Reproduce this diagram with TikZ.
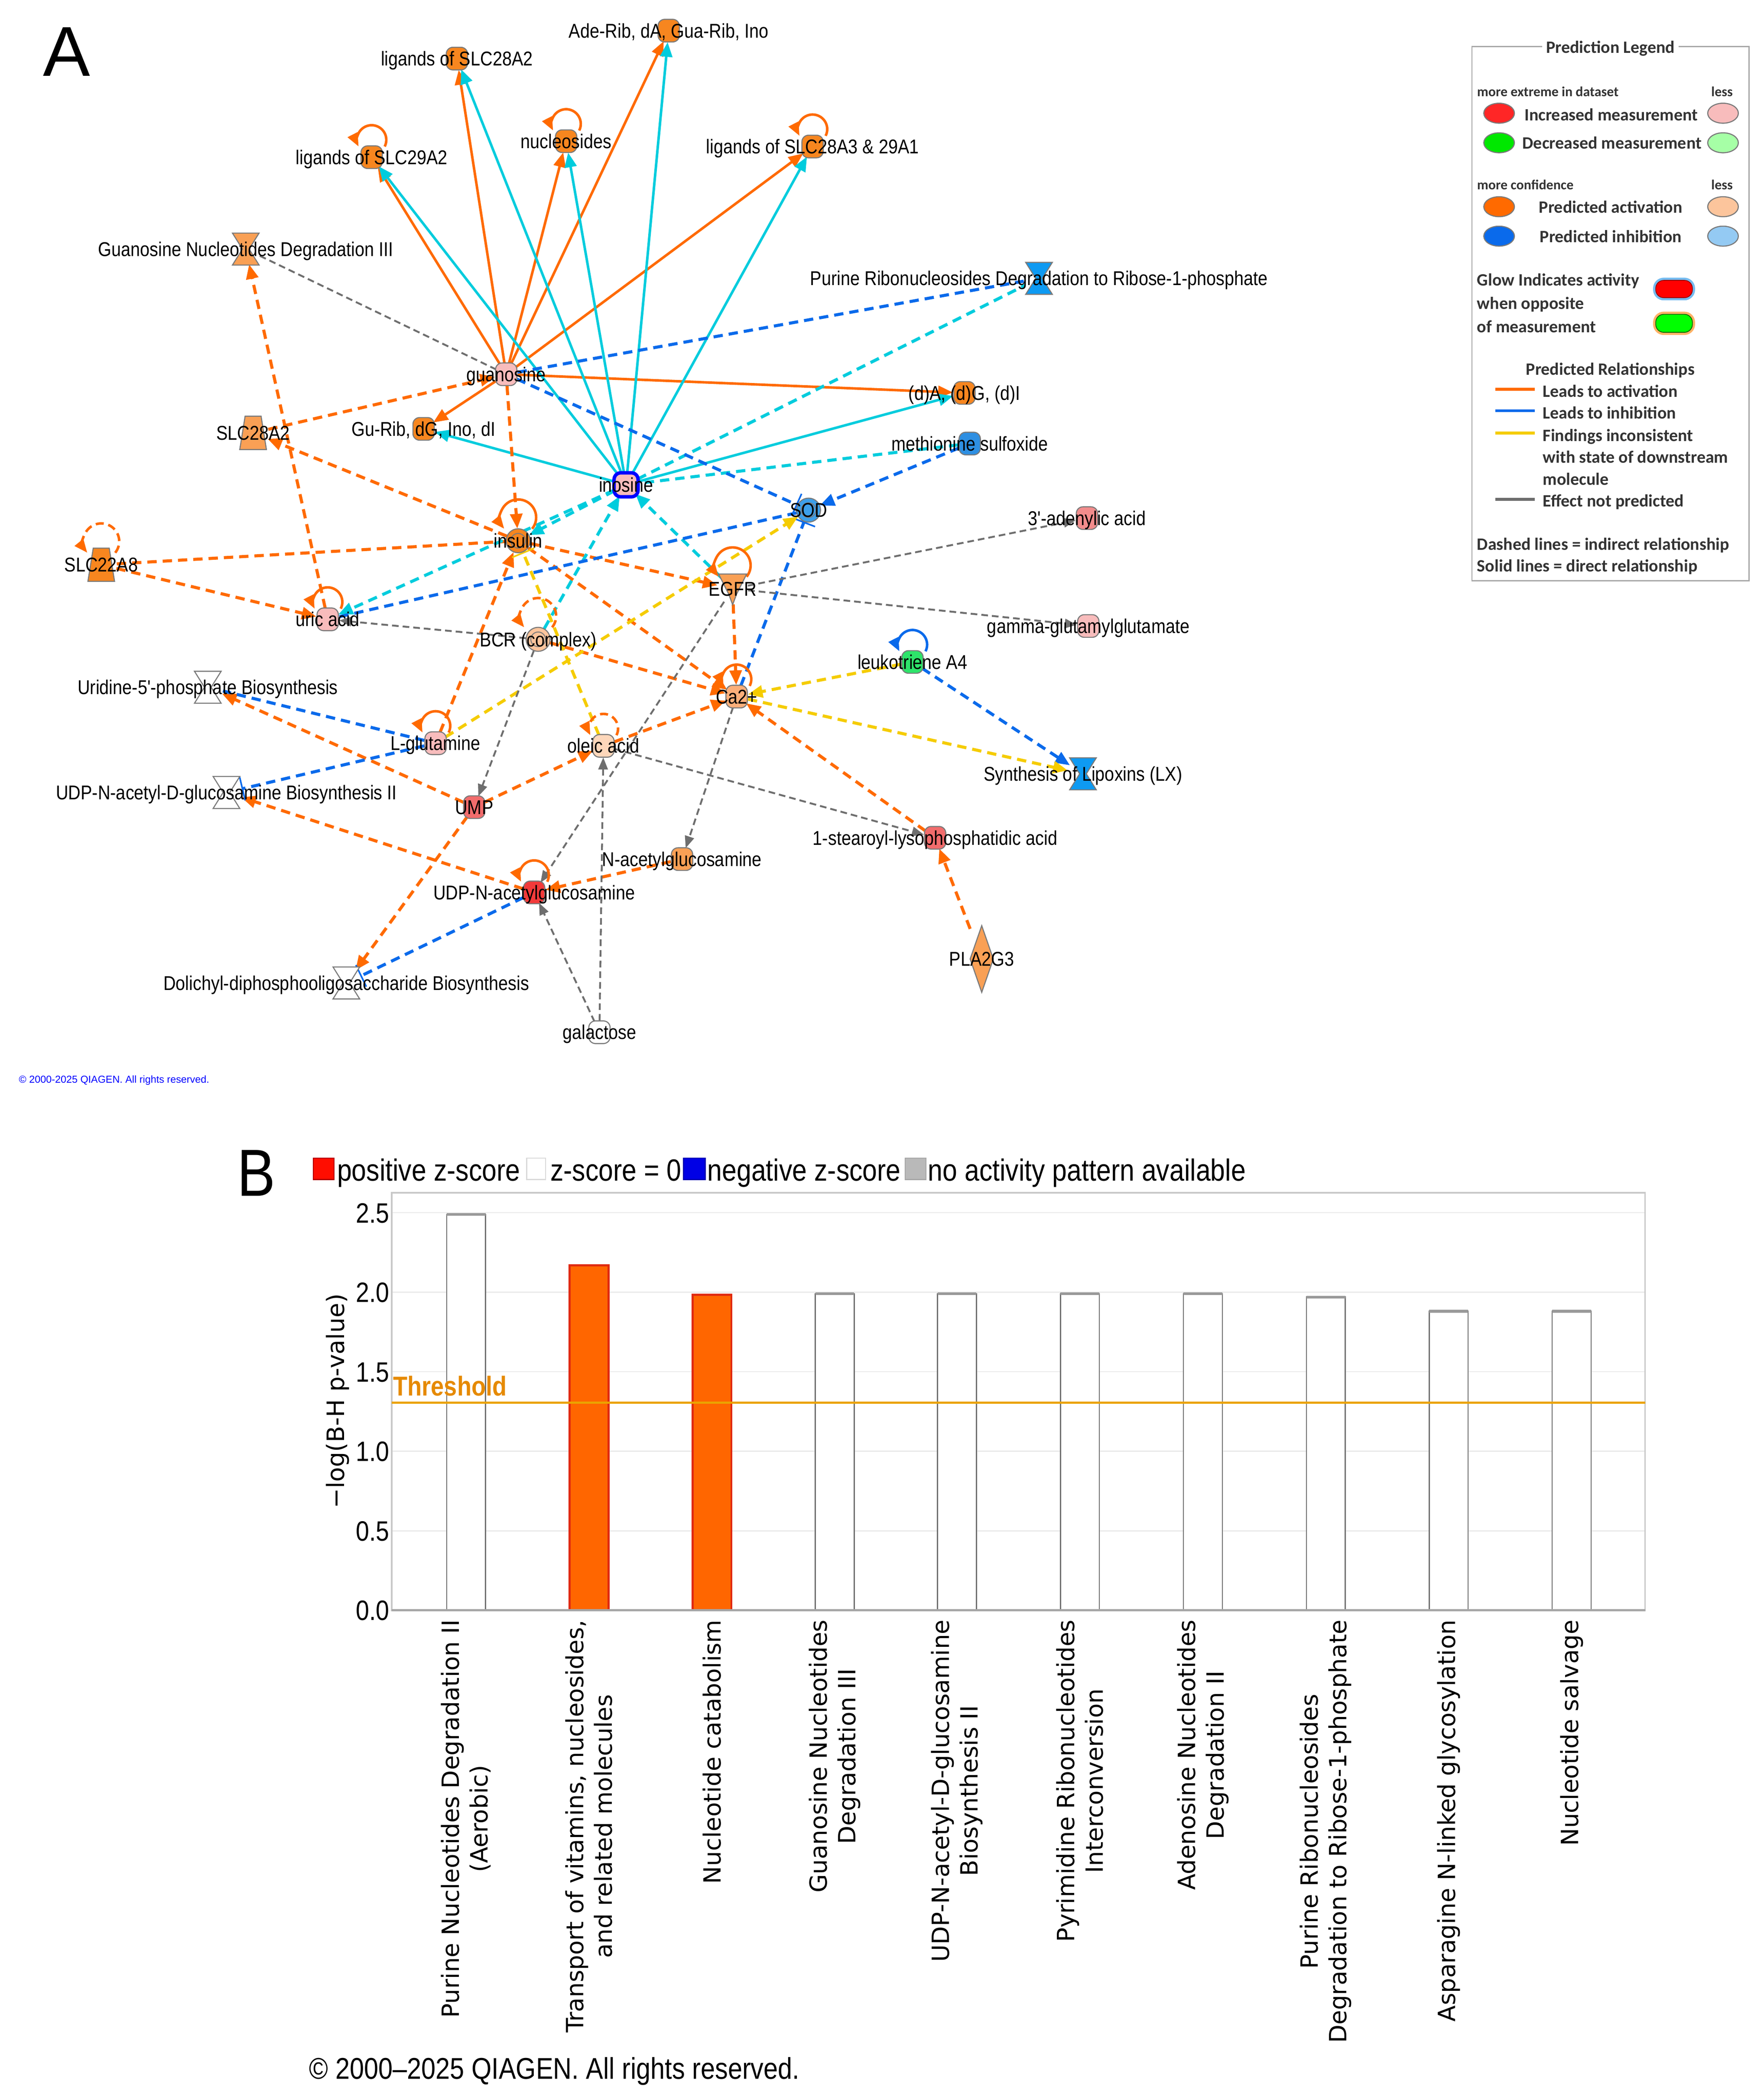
\documentclass[tikz,border=0pt]{standalone}
\usepackage{fontspec}
\setmainfont{Liberation Sans}
\newfontfamily\netf[FakeStretch=0.86]{Liberation Sans}
\newfontfamily\dvf{DejaVu Sans}
\newfontfamily\lgf{Carlito}
\usetikzlibrary{arrows.meta,calc}
\definecolor{orng}{HTML}{FF6A00}
\definecolor{cyn}{HTML}{00CCDD}
\definecolor{blu}{HTML}{0A6AEB}
\definecolor{yel}{HTML}{F5CC00}
\definecolor{gry}{HTML}{6E6E6E}
\definecolor{shpb}{HTML}{7A7A7A}
\definecolor{oD}{HTML}{F7861F}
\definecolor{oM}{HTML}{F9A055}
\definecolor{oL1}{HTML}{FBAF7A}
\definecolor{oL2}{HTML}{FCC59C}
\definecolor{oL3}{HTML}{FDD7BA}
\definecolor{pkL}{HTML}{F8BCBC}
\definecolor{pkM}{HTML}{F28C8C}
\definecolor{pkR}{HTML}{F26C6C}
\definecolor{rdS}{HTML}{F23A3A}
\definecolor{blS}{HTML}{3C9FEA}
\definecolor{blM}{HTML}{2E8FE2}
\definecolor{blH}{HTML}{0E9AF2}
\definecolor{grn}{HTML}{2EE46A}
\definecolor{barO}{HTML}{FF6600}
\definecolor{barE}{HTML}{E02A10}
\definecolor{thr}{HTML}{EBA300}
\definecolor{thrT}{HTML}{E68A00}
\definecolor{gridc}{HTML}{EAEAEA}
\definecolor{framec}{HTML}{C8C8C8}
\definecolor{lgtxt}{HTML}{333333}
\tikzset{
 mn/.style={circle, minimum size=17pt, inner sep=0pt, draw=none},
 mnb/.style={circle, minimum size=23pt, inner sep=0pt, draw=none},
 lbl/.style={font=\netf\fontsize{15}{17}\selectfont, inner sep=0pt, text height=10.7pt, text depth=0pt},
 tip/.style={-{Triangle[length=11pt,width=9pt]}},
 gtip/.style={-{Triangle[length=9pt,width=7pt]}},
 ttip/.style={-{Bar[width=18pt,line width=1.2pt]}},
 sol/.style={line width=1.9pt},
 dsh/.style={line width=2.3pt, dash pattern=on 7pt off 4.5pt},
 gds/.style={line width=1.4pt, dash pattern=on 5pt off 3pt},
 actS/.style={sol, draw=orng, tip},
 cyS/.style={sol, draw=cyn, tip},
 actD/.style={dsh, draw=orng, tip},
 actDn/.style={dsh, draw=orng},
 cyD/.style={dsh, draw=cyn, tip},
 cyDn/.style={dsh, draw=cyn},
 inhD/.style={dsh, draw=blu, tip},
 inhDn/.style={dsh, draw=blu},
 inhDT/.style={dsh, draw=blu, ttip},
 yeD/.style={dsh, draw=yel, tip},
 yeDT/.style={dsh, draw=yel, ttip},
 grD/.style={gds, draw=gry, gtip},
 grDn/.style={gds, draw=gry},
 loopS/.style={line width=1.9pt, draw=orng, -{Triangle[length=10pt,width=8pt]}},
 loopD/.style={loopS, dash pattern=on 6pt off 3.5pt},
 shp/.style={draw=shpb, line width=0.8pt},
 pics/chem/.style={code={\draw[shp, fill=#1, rounded corners=5pt] (-8,-8.5) rectangle (8,8.5);}},
 pics/cplx/.style={code={\draw[shp, fill=#1] (0,0) circle (9pt); \draw[draw=shpb, line width=0.7pt] (0,0) circle (5.5pt);}},
 pics/hglass/.style={code={\draw[shp, fill=#1] (-10,-12) -- (10,-12) -- (2.5,0) -- (10,12) -- (-10,12) -- (-2.5,0) -- cycle;}},
 pics/trans/.style={code={\draw[shp, fill=#1] (-6,-12.5) -- (6,-12.5) -- (10,12.5) -- (-10,12.5) -- cycle;}},
 pics/recep/.style={code={\draw[shp, fill=#1] (-10.5,-11) -- (10.5,-11) -- (3,4) -- (0,12) -- (-3,4) -- cycle;}},
 pics/diam/.style={code={\draw[shp, fill=#1] (0,-25) -- (8.7,0) -- (0,25) -- (-8.7,0) -- cycle;}},
 tick/.style={font=\netf\fontsize{21}{24}\selectfont, inner sep=0pt, text height=15pt, text depth=0pt, anchor=east},
 catl/.style={rotate=90, anchor=east, align=center, font=\dvf\fontsize{17.8}{21.5}\selectfont, inner sep=0pt},
 chl/.style={font=\netf\fontsize{23}{25}\selectfont, inner sep=0pt, anchor=base west},
 lgt/.style={font=\lgf\bfseries\fontsize{13}{15}\selectfont, text=lgtxt, inner sep=0pt, text height=8.4pt, text depth=0pt, anchor=west},
 lgs/.style={font=\lgf\bfseries\fontsize{10.4}{12}\selectfont, text=lgtxt, inner sep=0pt, text height=6.5pt, text depth=0pt},
 wbar/.style={draw=gry, line width=0.8pt, fill=white},
 obar/.style={draw=barE, line width=1.6pt, fill=barO},
}
\newcommand\sloop[2]{\draw[#2] ([shift={(-27:11pt)},yshift=13pt]#1.center) arc[start angle=-27,end angle=207,radius=11pt];}
\newcommand\bloop[2]{\draw[#2] ([shift={(-39:13.5pt)},yshift=17.5pt]#1.center) arc[start angle=-39,end angle=219,radius=13.5pt];}
\begin{document}
\begin{tikzpicture}[x=1pt,y=-1pt]
\useasboundingbox (0,0) rectangle (1324,1576.7);
\fill[white] (0,0) rectangle (1324,1576.7);

% ---------------- Panel A: anchor nodes ----------------
\node[font=\fontsize{53}{56}\selectfont, inner sep=0pt, text height=38pt, text depth=0pt] (labA) at (50,38) {A};
\node[mn] (lig28A2) at (343,44) {};
\node[mn] (aderib) at (502,23) {};
\node[mn] (nucl) at (425,106) {};
\node[mn] (lig29A2) at (279,118) {};
\node[mn] (lig28A3) at (610,110) {};
\node[mnb] (gndeg) at (184.5,187) {};
\node[mnb] (purine) at (780,209) {};
\node[mn] (guan) at (380,281) {};
\node[mn] (dadg) at (724,295) {};
\node[mnb] (slc28a2) at (190,325) {};
\node[mn] (gurib) at (318,322) {};
\node[mn] (methsulf) at (728,333) {};
\node[mn, minimum size=19pt] (ino) at (470,364) {};
\node[mn, minimum size=18pt] (sod) at (607,383) {};
\node[mn] (adenylic) at (816,389) {};
\node[mn, minimum size=18pt] (insulin) at (389,406) {};
\node[mnb] (slc22a8) at (76,424) {};
\node[mnb] (egfr) at (550,442) {};
\node[mn] (uric) at (246,465) {};
\node[mn, minimum size=18pt] (bcr) at (404,480) {};
\node[mn] (gamma) at (817,470) {};
\node[mn] (leuko) at (685,497) {};
\node[mnb] (uridine) at (156,516) {};
\node[mn] (ca) at (553,523) {};
\node[mn] (lglut) at (327,558) {};
\node[mn] (oleic) at (453,560) {};
\node[mnb] (lipox) at (813,581) {};
\node[mnb] (udpbios) at (170,595) {};
\node[mn] (ump) at (356,606) {};
\node[mn] (stearoyl) at (702,629) {};
\node[mn] (nag) at (512,645) {};
\node[mn] (udpnag) at (401,670) {};
\node[rectangle, minimum width=17pt, minimum height=50pt, inner sep=0pt] (pla2g3) at (737,720) {};
\node[mnb] (dolich) at (260,738) {};
\node[mn] (galac) at (450,775) {};

% ---------------- edges ----------------
\foreach \t in {lig28A2,lig29A2,nucl,aderib,lig28A3,dadg,gurib} \draw[actS] (guan) -- (\t);
\foreach \t in {lig28A2,lig29A2,nucl,aderib,lig28A3,dadg,gurib} \draw[cyS] (ino) -- (\t);

\draw[actD] (slc28a2) -- (guan);
\draw[actD] (guan) -- (insulin);
\draw[actD] (insulin) -- (slc28a2);
\draw[actD] (uric) -- (gndeg);
\draw[actDn] (slc22a8) -- (insulin);
\draw[actD] (slc22a8) -- (uric);
\draw[actD] (insulin) -- (egfr);
\draw[actD] (insulin) -- (ca);
\draw[actD] (bcr) -- (ca);
\draw[actD] (oleic) -- (ca);
\draw[actD] (egfr) -- (ca);
\draw[actD] (stearoyl) -- (ca);
\draw[actD] (pla2g3) -- (stearoyl);
\draw[actD] (lglut) -- (insulin);
\draw[actD] (ump) -- (oleic);
\draw[actD] (ump) -- (uridine);
\draw[actD] (ump) -- (dolich);
\draw[actD] (udpnag) -- (udpbios);
\draw[actD] (nag) -- (udpnag);

\draw[cyDn] (ino) -- (purine);
\draw[cyDn] (methsulf) -- (ino);
\draw[cyD] (ino) -- (insulin);
\draw[cyD] (ino) -- (uric);
\draw[cyD] (bcr) -- (ino);
\draw[cyD] (egfr) -- (ino);

\draw[inhDT] (guan) -- (sod);
\draw[inhDn] (guan) -- (purine);
\draw[inhDn] (sod) -- (uric);
\draw[inhD] (methsulf) -- (sod);
\draw[inhDT] (ca) -- (sod);
\draw[inhD] (leuko) -- (lipox);
\draw[inhDn] (lglut) -- (uridine);
\draw[inhDT] (lglut) -- (udpbios);
\draw[inhDT] (udpnag) -- (dolich);

\draw[yeD] (lglut) -- (sod);
\draw[yeDT] (oleic) -- (insulin);
\draw[yeD] (leuko) -- (ca);
\draw[yeD] (ca) -- (lipox);

\draw[grDn] (gndeg) -- (guan);
\draw[grD] (egfr) -- (adenylic);
\draw[grD] (egfr) -- (gamma);
\draw[grD] (egfr) -- (udpnag);
\draw[grD] (ca) -- (nag);
\draw[grD] (bcr) -- (uric);
\draw[grD] (bcr) -- (ump);
\draw[grD] (oleic) -- (stearoyl);
\draw[grD] (galac) -- (udpnag);
\draw[grD] (galac) -- (oleic);

% self loops
\sloop{nucl}{loopS}
\sloop{lig29A2}{loopS}
\sloop{lig28A3}{loopS}
\bloop{insulin}{loopS}
\bloop{slc22a8}{loopD}
\sloop{uric}{loopS}
\bloop{bcr}{loopD}
\bloop{egfr}{loopS}
\sloop{ca}{loopS}
\sloop{lglut}{loopS}
\sloop{oleic}{loopD}
\sloop{udpnag}{loopS}
\sloop{leuko}{loopS, draw=blu}

% ---------------- shapes ----------------
\pic at (lig28A2) {chem=oD};
\pic at (aderib) {chem=oD};
\pic at (nucl) {chem=oD};
\pic at (lig29A2) {chem=oD};
\pic at (lig28A3) {chem=oD};
\pic at (gndeg) {hglass=oM};
\pic at (purine) {hglass=blH};
\pic at (guan) {chem=pkL};
\pic at (dadg) {chem=oD};
\pic at (slc28a2) {trans=oM};
\pic at (gurib) {chem=oD};
\pic at (methsulf) {chem=blM};
\draw[fill=pkL, draw=blue, line width=2.6pt, rounded corners=5pt] ($(ino)+(-9,-9)$) rectangle ($(ino)+(9,9)$);
\pic at (sod) {cplx=blS};
\pic at (adenylic) {chem=pkM};
\pic at (insulin) {cplx=oD};
\pic at (slc22a8) {trans=oD};
\pic at (egfr) {recep=oM};
\pic at (uric) {chem=pkL};
\pic at (bcr) {cplx=oL2};
\pic at (gamma) {chem=pkL};
\pic at (leuko) {chem=grn};
\pic at (uridine) {hglass=white};
\pic at (ca) {chem=oL1};
\pic at (lglut) {chem=pkL};
\pic at (oleic) {chem=oL3};
\pic at (lipox) {hglass=blH};
\pic at (udpbios) {hglass=white};
\pic at (ump) {chem=pkR};
\pic at (stearoyl) {chem=pkR};
\pic at (nag) {chem=oM};
\pic at (udpnag) {chem=rdS};
\pic at (pla2g3) {diam=oM};
\pic at (dolich) {hglass=white};
\pic at (galac) {chem=white};

% ---------------- labels ----------------
\node[lbl] (lig28A2-l) at (lig28A2) {ligands of SLC28A2};
\node[lbl] (aderib-l) at (aderib) {Ade-Rib, dA, Gua-Rib, Ino};
\node[lbl] (nucl-l) at (nucl) {nucleosides};
\node[lbl] (lig29A2-l) at (lig29A2) {ligands of SLC29A2};
\node[lbl] (lig28A3-l) at (lig28A3) {ligands of SLC28A3 \& 29A1};
\node[lbl] (gndeg-l) at (gndeg) {Guanosine Nucleotides Degradation III};
\node[lbl] (purine-l) at (purine) {Purine Ribonucleosides Degradation to Ribose-1-phosphate};
\node[lbl] (guan-l) at (guan) {guanosine};
\node[lbl] (dadg-l) at (dadg) {(d)A, (d)G, (d)I};
\node[lbl] (slc28a2-l) at (slc28a2) {SLC28A2};
\node[lbl] (gurib-l) at (gurib) {Gu-Rib, dG, Ino, dI};
\node[lbl] (methsulf-l) at (methsulf) {methionine sulfoxide};
\node[lbl] (ino-l) at (ino) {inosine};
\node[lbl] (sod-l) at (sod) {SOD};
\node[lbl] (adenylic-l) at (adenylic) {3'-adenylic acid};
\node[lbl] (insulin-l) at (insulin) {insulin};
\node[lbl] (slc22a8-l) at (slc22a8) {SLC22A8};
\node[lbl] (egfr-l) at (egfr) {EGFR};
\node[lbl] (uric-l) at (uric) {uric acid};
\node[lbl] (bcr-l) at (bcr) {BCR (complex)};
\node[lbl] (gamma-l) at (gamma) {gamma-glutamylglutamate};
\node[lbl] (leuko-l) at (leuko) {leukotriene A4};
\node[lbl] (uridine-l) at (uridine) {Uridine-5'-phosphate Biosynthesis};
\node[lbl] (ca-l) at (ca) {Ca2+};
\node[lbl] (lglut-l) at (lglut) {L-glutamine};
\node[lbl] (oleic-l) at (oleic) {oleic acid};
\node[lbl] (lipox-l) at (lipox) {Synthesis of Lipoxins (LX)};
\node[lbl] (udpbios-l) at (udpbios) {UDP-N-acetyl-D-glucosamine Biosynthesis II};
\node[lbl] (ump-l) at (ump) {UMP};
\node[lbl] (stearoyl-l) at (stearoyl) {1-stearoyl-lysophosphatidic acid};
\node[lbl] (nag-l) at (nag) {N-acetylglucosamine};
\node[lbl] (udpnag-l) at (udpnag) {UDP-N-acetylglucosamine};
\node[lbl] (pla2g3-l) at (pla2g3) {PLA2G3};
\node[lbl] (dolich-l) at (dolich) {Dolichyl-diphosphooligosaccharide Biosynthesis};
\node[lbl] (galac-l) at (galac) {galactose};
\node[font=\fontsize{7.6}{9}\selectfont, text=blue, inner sep=0pt, anchor=west] (copyA) at (14,811) {© 2000-2025 QIAGEN. All rights reserved.};

% ---------------- Prediction legend ----------------
\draw[draw=gray!70, line width=0.9pt] (1105,35) rectangle (1313,436);
\node[lgt, anchor=center, fill=white, inner xsep=3pt, font=\lgf\bfseries\fontsize{13}{15}\selectfont] (lgtitle) at (1209,35.5) {Prediction Legend};
\node[lgs, anchor=west] (lgme) at (1108.7,69) {more extreme in dataset};
\node[lgs, anchor=east] (lgl1) at (1301,69) {less};
\draw[shp, fill=red!85!white] (1125.4,85) ellipse (11.5pt and 7.5pt);
\draw[shp, fill=pkL] (1293.5,85) ellipse (11.5pt and 7.5pt);
\node[lgt] (lginc) at (1144.3,86.4) {Increased measurement};
\draw[shp, fill=green!85!black!60!green] (1125.4,107.2) ellipse (11.5pt and 7.5pt);
\draw[shp, fill=green!35!white] (1293.5,107.2) ellipse (11.5pt and 7.5pt);
\node[lgt] (lgdec) at (1142.8,107.4) {Decreased measurement};
\node[lgs, anchor=west] (lgmc) at (1108.7,139) {more confidence};
\node[lgs, anchor=east] (lgl2) at (1301,139) {less};
\draw[shp, fill=orng] (1125.4,155.2) ellipse (11.5pt and 7.5pt);
\draw[shp, fill=oL2] (1293.5,155.2) ellipse (11.5pt and 7.5pt);
\node[lgt] (lgpa) at (1155.2,155.8) {Predicted activation};
\draw[shp, fill=blu] (1125.4,177.3) ellipse (11.5pt and 7.5pt);
\draw[shp, fill=blS!55!white] (1293.5,177.3) ellipse (11.5pt and 7.5pt);
\node[lgt] (lgpi) at (1155.8,177.8) {Predicted inhibition};
\node[lgt] (lgg1) at (1108.7,210.4) {Glow Indicates activity};
\node[lgt] (lgg2) at (1108.7,228) {when opposite};
\node[lgt] (lgg3) at (1108.7,245.5) {of measurement};
\draw[draw=blS!70!white, line width=4pt, rounded corners=6pt] (1243,210.5) rectangle (1270.5,223.5);
\draw[fill=red, draw=red!60!black, line width=0.6pt, rounded corners=6pt] (1243,210.5) rectangle (1270.5,223.5);
\draw[draw=orange!60!white, line width=4pt, rounded corners=6pt] (1243,236) rectangle (1270.5,249.5);
\draw[fill=green, draw=green!40!black, line width=0.6pt, rounded corners=6pt] (1243,236) rectangle (1270.5,249.5);
\node[lgt, anchor=center] (lgpr) at (1208.9,277.3) {Predicted Relationships};
\draw[orng, line width=2.2pt] (1122.5,292.2) -- (1152.3,292.2);
\draw[blu, line width=2.2pt] (1122.5,308.4) -- (1152.3,308.4);
\draw[yel, line width=2.2pt] (1122.5,325.1) -- (1152.3,325.1);
\draw[gry, line width=2.2pt] (1122.5,375) -- (1152.3,375);
\node[lgt] (lgr1) at (1158.1,294) {Leads to activation};
\node[lgt] (lgr2) at (1158.1,310.3) {Leads to inhibition};
\node[lgt] (lgr3) at (1158.1,327) {Findings inconsistent};
\node[lgt] (lgr4) at (1158.1,343.4) {with state of downstream};
\node[lgt] (lgr5) at (1158.1,360.1) {molecule};
\node[lgt] (lgr6) at (1158.1,376.3) {Effect not predicted};
\node[lgt] (lgd1) at (1108.7,408.7) {Dashed lines = indirect relationship};
\node[lgt] (lgd2) at (1108.7,424.9) {Solid lines = direct relationship};

% ---------------- Panel B ----------------
\node[font=\netf\fontsize{50}{52}\selectfont, inner sep=0pt, text height=35.8pt, text depth=0pt] (labB) at (192.5,880) {B};
\draw[draw=red!70!black, fill=red!90!orange, line width=0.8pt] (235.2,869.5) rectangle (250.8,885.6);
\node[chl] (k1) at (252.9,886.5) {positive z-score};
\draw[draw=gray!30, fill=white, line width=0.8pt] (395.4,869.5) rectangle (409.5,885.6);
\node[chl] (k2) at (413,886.5) {z-score = 0};
\draw[draw=blue!70!black, fill=blue!90!black, line width=0.8pt] (513.2,869.5) rectangle (529.4,885.6);
\node[chl] (k3) at (530.9,886.5) {negative z-score};
\draw[draw=gray!70, fill=gray!55, line width=0.8pt] (679.6,869.5) rectangle (695.2,885.6);
\node[chl] (k4) at (696.5,886.5) {no activity pattern available};

% grid and ticks
\foreach \v/\lab [count=\i] in {0/0.0,0.5/0.5,1/1.0,1.5/1.5,2/2.0,2.5/2.5} {
  \draw[gridc, line width=0.9pt] (294,{1209-119.4*\v}) -- (1235,{1209-119.4*\v});
  \node[tick] (tk\i) at (292.5,{1209-119.4*\v}) {\lab};
}
\draw[framec, line width=1.2pt] (294,895.6) rectangle (1235,1209);

% bars
\draw[wbar] (335.3,1209) rectangle (364.5,911.7);
\draw[obar] (427.6,1209) rectangle (456.8,949.9);
\draw[obar] (519.9,1209) rectangle (549.1,972.0);
\draw[wbar] (612.1,1209) rectangle (641.3,971.4);
\draw[wbar] (703.8,1209) rectangle (733.0,971.4);
\draw[wbar] (796.1,1209) rectangle (825.3,971.4);
\draw[wbar] (888.4,1209) rectangle (917.6,971.4);
\draw[wbar] (980.7,1209) rectangle (1009.9,973.8);
\draw[wbar] (1072.9,1209) rectangle (1102.1,984.5);
\draw[wbar] (1165.2,1209) rectangle (1194.4,984.5);
\foreach \xa/\yt in {335.3/911.7,612.1/971.4,703.8/971.4,796.1/971.4,888.4/971.4,980.7/973.8,1072.9/984.5,1165.2/984.5} {
  \draw[gray!80, line width=2pt] (\xa,\yt) -- ({\xa+29.2},\yt);
}
\draw[gray!70, line width=1.5pt] (294,1209) -- (1235,1209);

% threshold
\draw[thr, line width=1.6pt] (294,1053) -- (1235,1053);
\node[font=\netf\bfseries\fontsize{20.5}{22}\selectfont, text=thrT, inner sep=0pt, anchor=base west] (thrl) at (295,1048) {Threshold};

% axis label
\node[rotate=90, font=\dvf\fontsize{18}{20}\selectfont, inner sep=0pt] (ylab) at (253.5,1052) {−log(B-H p-value)};

% category labels
\node[catl] (c1) at (349.9,1216) {Purine Nucleotides Degradation II\\(Aerobic)};
\node[catl] (c2) at (442.2,1216) {Transport of vitamins, nucleosides,\\and related molecules};
\node[catl] (c3) at (534.5,1216) {Nucleotide catabolism};
\node[catl] (c4) at (626.7,1216) {Guanosine Nucleotides\\Degradation III};
\node[catl] (c5) at (718.4,1216) {UDP-N-acetyl-D-glucosamine\\Biosynthesis II};
\node[catl] (c6) at (810.7,1216) {Pyrimidine Ribonucleotides\\Interconversion};
\node[catl] (c7) at (903.0,1216) {Adenosine Nucleotides\\Degradation II};
\node[catl] (c8) at (995.3,1216) {Purine Ribonucleosides\\Degradation to Ribose-1-phosphate};
\node[catl] (c9) at (1087.5,1216) {Asparagine N-linked glycosylation};
\node[catl] (c10) at (1179.8,1216) {Nucleotide salvage};

\node[font=\netf\fontsize{22.5}{24}\selectfont, inner sep=0pt, anchor=base west] (copyB) at (232,1561) {© 2000–2025 QIAGEN. All rights reserved.};
\end{tikzpicture}
\end{document}
